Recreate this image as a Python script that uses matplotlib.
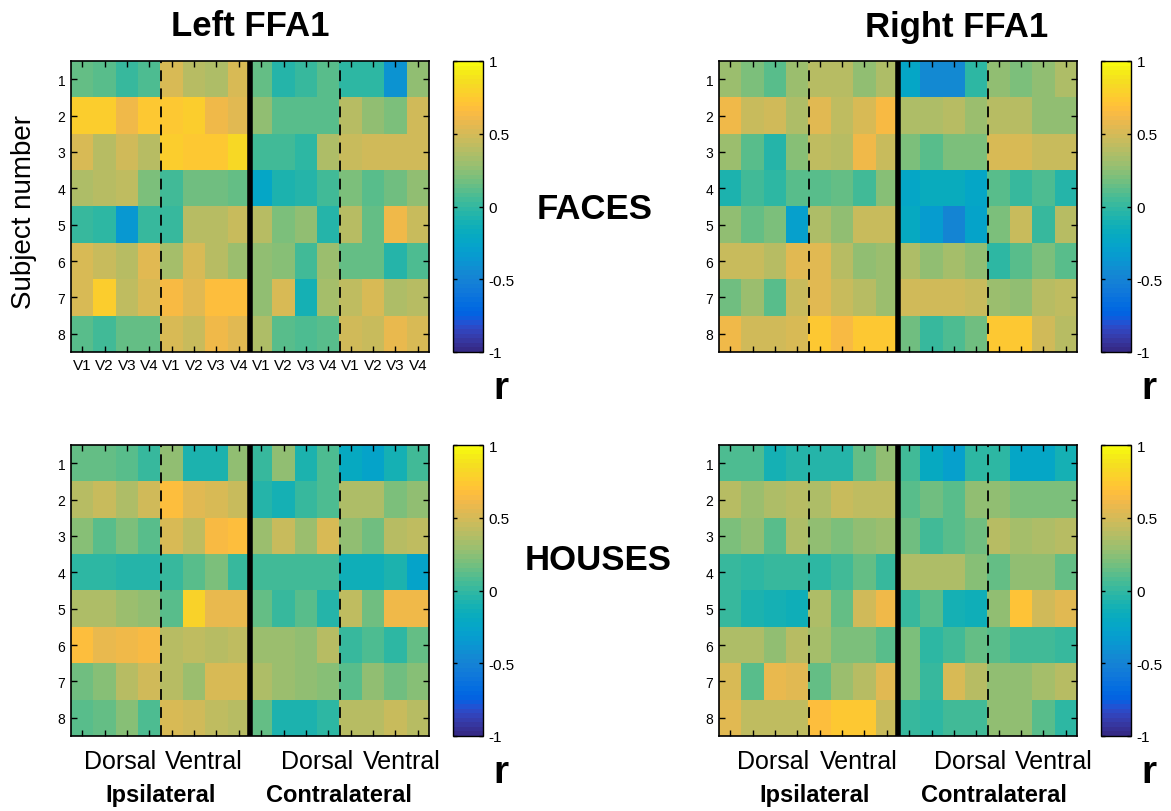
import numpy as np
import matplotlib
matplotlib.use("Agg")
import matplotlib.pyplot as plt
from matplotlib.colors import ListedColormap

plt.rcParams['font.family'] = ['Liberation Sans', 'DejaVu Sans']

# ---------------- data (r values, 8 subjects x 16 ROIs) ----------------
subjects = [1, 2, 3, 4, 5, 6, 7, 8]
roi_labels = ["V1", "V2", "V3", "V4"] * 4
sub_groups = ["Dorsal", "Ventral", "Dorsal", "Ventral"]
hemi_groups = ["Ipsilateral", "Contralateral"]
titles = ["Left FFA1", "Right FFA1"]
conditions = ["FACES", "HOUSES"]

left_faces = [
    [0.15, 0.10, 0.01, 0.08, 0.50, 0.40, 0.35, 0.50, 0.15, -0.06, 0.00, 0.10, -0.01, -0.01, -0.38, 0.25],
    [0.75, 0.75, 0.62, 0.72, 0.72, 0.75, 0.60, 0.55, 0.25, 0.10, 0.10, 0.10, 0.38, 0.28, 0.20, 0.48],
    [0.50, 0.38, 0.48, 0.40, 0.78, 0.72, 0.72, 0.82, 0.05, 0.05, -0.01, 0.35, 0.45, 0.48, 0.48, 0.48],
    [0.35, 0.40, 0.42, 0.20, 0.05, 0.18, 0.18, 0.15, -0.25, -0.08, -0.05, 0.05, 0.20, 0.10, 0.18, 0.25],
    [0.01, -0.02, -0.35, 0.01, 0.03, 0.40, 0.38, 0.45, 0.38, 0.20, 0.25, -0.05, 0.40, 0.15, 0.62, 0.45],
    [0.52, 0.45, 0.40, 0.55, 0.32, 0.50, 0.40, 0.30, 0.28, 0.22, 0.05, 0.30, 0.15, 0.15, -0.04, 0.08],
    [0.52, 0.75, 0.42, 0.52, 0.65, 0.55, 0.68, 0.68, 0.28, 0.50, -0.10, 0.32, 0.42, 0.50, 0.35, 0.40],
    [0.10, 0.05, 0.15, 0.15, 0.50, 0.45, 0.62, 0.55, 0.35, 0.12, 0.08, 0.12, 0.48, 0.45, 0.58, 0.52],
]
right_faces = [
    [0.30, 0.20, 0.10, 0.30, 0.40, 0.40, 0.25, 0.35, -0.22, -0.45, -0.45, -0.02, 0.28, 0.20, 0.25, 0.35],
    [0.62, 0.45, 0.48, 0.35, 0.55, 0.42, 0.50, 0.65, 0.35, 0.35, 0.38, 0.30, 0.38, 0.38, 0.28, 0.25],
    [0.30, 0.10, -0.05, 0.22, 0.42, 0.38, 0.60, 0.45, 0.20, 0.12, 0.20, 0.20, 0.50, 0.50, 0.45, 0.45],
    [-0.08, 0.05, -0.03, 0.12, 0.10, 0.15, 0.05, 0.22, -0.25, -0.18, -0.18, -0.25, 0.10, 0.02, 0.08, -0.05],
    [0.25, 0.15, 0.20, -0.30, 0.35, 0.25, 0.45, 0.45, -0.20, -0.32, -0.50, -0.28, 0.20, 0.45, 0.02, 0.38],
    [0.45, 0.45, 0.38, 0.55, 0.55, 0.40, 0.28, 0.30, 0.35, 0.28, 0.32, 0.28, -0.02, 0.10, 0.20, 0.12],
    [0.18, 0.30, 0.10, 0.45, 0.55, 0.45, 0.38, 0.30, 0.48, 0.48, 0.48, 0.45, 0.30, 0.25, 0.38, 0.42],
    [0.62, 0.48, 0.48, 0.52, 0.72, 0.65, 0.72, 0.72, 0.18, 0.00, 0.08, 0.18, 0.72, 0.72, 0.48, 0.38],
]
left_houses = [
    [0.15, 0.15, 0.10, 0.00, 0.25, -0.08, -0.08, 0.25, 0.02, 0.25, -0.08, 0.08, -0.20, -0.26, -0.12, 0.05],
    [0.38, 0.45, 0.35, 0.48, 0.68, 0.55, 0.52, 0.45, -0.05, -0.12, 0.02, 0.08, 0.35, 0.35, 0.20, 0.25],
    [0.22, 0.12, 0.20, 0.10, 0.52, 0.42, 0.63, 0.67, 0.30, 0.45, 0.30, 0.50, 0.28, 0.18, 0.38, 0.43],
    [-0.02, -0.03, -0.04, -0.04, 0.03, 0.12, 0.20, 0.00, 0.05, 0.05, 0.05, 0.04, -0.14, -0.14, -0.08, -0.28],
    [0.35, 0.35, 0.30, 0.25, 0.12, 0.80, 0.57, 0.57, 0.15, 0.00, 0.10, -0.05, 0.42, 0.18, 0.60, 0.60],
    [0.68, 0.57, 0.62, 0.63, 0.38, 0.42, 0.40, 0.42, 0.30, 0.30, 0.25, 0.38, 0.00, 0.08, -0.02, 0.15],
    [0.18, 0.22, 0.38, 0.48, 0.40, 0.30, 0.50, 0.52, 0.35, 0.30, 0.28, 0.22, 0.12, 0.28, 0.18, 0.22],
    [0.10, 0.15, 0.22, 0.08, 0.52, 0.48, 0.42, 0.38, 0.15, -0.08, -0.08, -0.02, 0.38, 0.40, 0.45, 0.40],
]
right_houses = [
    [0.08, 0.08, -0.10, -0.05, -0.05, -0.05, 0.15, 0.28, 0.05, -0.20, -0.30, -0.03, -0.03, -0.22, -0.22, -0.10],
    [0.40, 0.30, 0.35, 0.40, 0.35, 0.45, 0.42, 0.42, 0.10, 0.18, 0.10, 0.25, 0.28, 0.20, 0.20, 0.20],
    [0.20, 0.25, 0.10, 0.35, 0.27, 0.20, 0.27, 0.30, 0.18, 0.05, 0.12, 0.18, 0.40, 0.33, 0.37, 0.40],
    [0.00, -0.03, 0.00, 0.00, -0.02, 0.05, 0.15, 0.00, 0.35, 0.35, 0.35, 0.22, 0.15, 0.25, 0.25, 0.15],
    [0.03, -0.08, -0.12, -0.14, 0.35, 0.15, 0.48, 0.60, 0.02, 0.10, -0.12, -0.14, 0.25, 0.70, 0.48, 0.55],
    [0.35, 0.35, 0.27, 0.38, 0.32, 0.20, 0.20, 0.12, 0.20, -0.02, 0.05, 0.15, 0.12, 0.05, 0.05, 0.00],
    [0.50, 0.12, 0.58, 0.55, 0.15, 0.30, 0.38, 0.55, 0.20, 0.03, 0.52, 0.40, 0.28, 0.25, 0.33, 0.38],
    [0.55, 0.42, 0.42, 0.42, 0.68, 0.73, 0.73, 0.45, 0.00, -0.02, 0.05, 0.05, 0.25, 0.25, 0.10, -0.02],
]

# ---------------- parula colormap ----------------
_parula = [
    [0.2081, 0.1663, 0.5292], [0.2116, 0.1898, 0.5777], [0.2123, 0.2138, 0.6270], [0.2081, 0.2386, 0.6771],
    [0.1959, 0.2645, 0.7279], [0.1707, 0.2919, 0.7792], [0.1253, 0.3242, 0.8303], [0.0591, 0.3598, 0.8683],
    [0.0117, 0.3875, 0.8820], [0.0060, 0.4086, 0.8828], [0.0165, 0.4266, 0.8786], [0.0329, 0.4430, 0.8720],
    [0.0498, 0.4586, 0.8641], [0.0629, 0.4737, 0.8554], [0.0723, 0.4887, 0.8467], [0.0779, 0.5040, 0.8384],
    [0.0793, 0.5200, 0.8312], [0.0749, 0.5375, 0.8263], [0.0641, 0.5570, 0.8240], [0.0488, 0.5772, 0.8228],
    [0.0343, 0.5966, 0.8199], [0.0265, 0.6137, 0.8135], [0.0239, 0.6287, 0.8038], [0.0231, 0.6418, 0.7913],
    [0.0228, 0.6535, 0.7768], [0.0267, 0.6642, 0.7607], [0.0384, 0.6743, 0.7436], [0.0590, 0.6838, 0.7254],
    [0.0843, 0.6928, 0.7062], [0.1133, 0.7015, 0.6859], [0.1453, 0.7098, 0.6646], [0.1801, 0.7177, 0.6424],
    [0.2178, 0.7250, 0.6193], [0.2586, 0.7317, 0.5954], [0.3022, 0.7376, 0.5712], [0.3482, 0.7424, 0.5473],
    [0.3953, 0.7459, 0.5244], [0.4420, 0.7481, 0.5033], [0.4871, 0.7491, 0.4840], [0.5300, 0.7491, 0.4661],
    [0.5709, 0.7485, 0.4494], [0.6099, 0.7473, 0.4337], [0.6473, 0.7456, 0.4188], [0.6834, 0.7435, 0.4044],
    [0.7184, 0.7411, 0.3905], [0.7525, 0.7384, 0.3768], [0.7858, 0.7356, 0.3633], [0.8185, 0.7327, 0.3498],
    [0.8507, 0.7299, 0.3360], [0.8824, 0.7274, 0.3217], [0.9139, 0.7258, 0.3063], [0.9450, 0.7261, 0.2886],
    [0.9739, 0.7314, 0.2666], [0.9938, 0.7455, 0.2403], [0.9990, 0.7653, 0.2164], [0.9955, 0.7861, 0.1967],
    [0.9880, 0.8066, 0.1794], [0.9789, 0.8271, 0.1633], [0.9697, 0.8481, 0.1475], [0.9626, 0.8705, 0.1309],
    [0.9589, 0.8949, 0.1132], [0.9598, 0.9218, 0.0948], [0.9661, 0.9514, 0.0755], [0.9763, 0.9831, 0.0538],
]
cmap = ListedColormap(_parula, name="parula")

W, H = 1171, 812
fig = plt.figure(figsize=(W / 100, H / 100), dpi=100)


def fx(px):
    return px / W


def fy(py):
    return 1 - py / H


heat_w, heat_h = 358, 291
cb_w = 30
panels = [
    (left_faces, 71, 62, 453, True),
    (right_faces, 719, 62, 1101, False),
    (left_houses, 71, 446, 453, False),
    (right_houses, 719, 446, 1101, False),
]

for data, x0, y0, cbx, show_x in panels:
    arr = np.array(data)
    ax = fig.add_axes([fx(x0), fy(y0 + heat_h), heat_w / W, heat_h / H])
    im = ax.imshow(arr, cmap=cmap, vmin=-1, vmax=1, aspect='auto', interpolation='nearest')
    ax.axvline(3.5, color='black', lw=1.3, ls=(0, (6, 4)))
    ax.axvline(11.5, color='black', lw=1.3, ls=(0, (6, 4)))
    ax.axvline(7.5, color='black', lw=4)
    ax.set_yticks(range(len(subjects)))
    ax.set_yticklabels([str(s) for s in subjects], fontsize=10)
    ax.set_xticks(range(len(roi_labels)))
    if show_x:
        ax.set_xticklabels(roi_labels, fontsize=11)
    else:
        ax.set_xticklabels([])
    ax.tick_params(direction='in', top=True, right=True, length=4, width=1, pad=4)
    for s in ax.spines.values():
        s.set_linewidth(1.2)
    ax.set_xlim(-0.5, 15.5)
    ax.set_ylim(7.5, -0.5)

    cax = fig.add_axes([fx(cbx), fy(y0 + heat_h), cb_w / W, heat_h / H])
    cb = fig.colorbar(im, cax=cax)
    cb.set_ticks([-1, -0.5, 0, 0.5, 1])
    cb.set_ticklabels(["-1", "-0.5", "0", "0.5", "1"])
    cax.tick_params(direction='in', left=True, right=True, length=3, width=1, labelsize=11, pad=4)
    cb.outline.set_linewidth(1.0)
    fig.text(fx(cbx + 48), fy(y0 + heat_h + 36), "r", fontsize=28, fontweight='bold',
             ha='center', va='center')

# titles
fig.text(fx(250), fy(27), titles[0], fontsize=25, fontweight='bold', ha='center', va='center')
fig.text(fx(957), fy(27), titles[1], fontsize=25, fontweight='bold', ha='center', va='center')
fig.text(fx(595), fy(210), conditions[0], fontsize=25, fontweight='bold', ha='center', va='center')
fig.text(fx(598), fy(560), conditions[1], fontsize=25, fontweight='bold', ha='center', va='center')
fig.text(fx(24), fy(212), "Subject number", fontsize=20, rotation=90, ha='center', va='center')

# bottom group labels
for xs in [[120, 204, 317, 402], [773, 859, 970, 1054]]:
    for lab, x in zip(sub_groups, xs):
        fig.text(fx(x), fy(762), lab, fontsize=18, ha='center', va='center')
for xs in [[161, 339], [815, 994]]:
    for lab, x in zip(hemi_groups, xs):
        fig.text(fx(x), fy(796), lab, fontsize=17, fontweight='bold', ha='center', va='center')

fig.savefig("out.png", dpi=100)
